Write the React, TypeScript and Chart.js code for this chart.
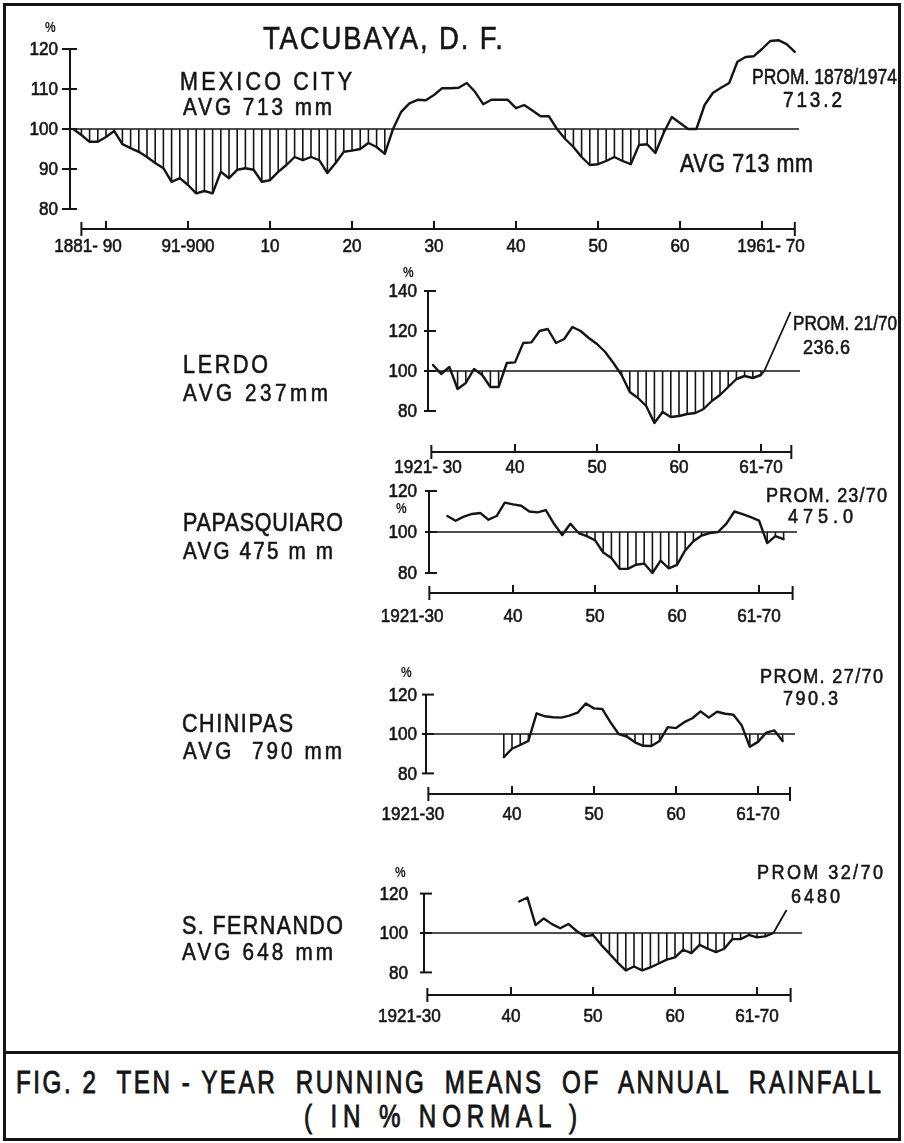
import React, { useEffect, useRef } from "react";
import { Chart, registerables } from "chart.js";

Chart.register(...registerables);

const INK = "#151515";
const FONT = '"Liberation Sans", Arial, sans-serif';

// ---------------- DATA ----------------
// Tacubaya (Mexico City), ten-year running means, % of normal
const tacubayaYears = [
  1886, 1887, 1888, 1889, 1890, 1891, 1892, 1893, 1894, 1895, 1896, 1897, 1898, 1899,
  1900, 1901, 1902, 1903, 1904, 1905, 1906, 1907, 1908, 1909, 1910, 1911, 1912, 1913,
  1914, 1915, 1916, 1917, 1918, 1919, 1920, 1921, 1922, 1923, 1924, 1925, 1926, 1927,
  1928, 1929, 1930, 1931, 1932, 1933, 1934, 1935, 1936, 1937, 1938, 1939, 1940, 1941,
  1942, 1943, 1944, 1945, 1946, 1947, 1948, 1949, 1950, 1951, 1952, 1953, 1954, 1955,
  1956, 1957, 1958, 1959, 1960, 1961, 1962, 1963, 1964, 1965, 1966, 1967, 1968, 1969,
  1970, 1971, 1972, 1973, 1974,
];
const tacubayaValues = [
  100, 98.5, 96.8, 96.8, 98, 99.5, 96.2, 95.2, 94.3, 93, 91.5, 90.2, 86.8, 87.7,
  86, 83.9, 84.5, 83.9, 89.3, 87.7, 89.8, 90.2, 89.8, 86.8, 87.2, 89.3, 91, 93,
  92.2, 93, 92.2, 89, 91.5, 94.3, 94.6, 95, 96.5, 95.5, 93.8, 100, 104.3, 106.4,
  107.3, 107.2, 108.5, 110.2, 110.2, 110.3, 111.5, 109.3, 106.2, 107.3, 107.3, 107.3, 105.2, 106,
  104.6, 103.2, 103.2, 100, 97.5, 95.5, 93, 91, 91.2, 92, 93, 92, 91.2, 96,
  96.2, 94, 99, 103, 101.5, 100, 100, 106, 109, 110.3, 111.5, 116.8, 118, 118.2,
  120, 122, 122.2, 121.2, 119.3,
];

// Lerdo
const lerdoYears = [
  1930, 1931, 1932, 1933, 1934, 1935, 1936, 1937, 1938, 1939, 1940, 1941, 1942, 1943,
  1944, 1945, 1946, 1947, 1948, 1949, 1950, 1951, 1952, 1953, 1954, 1955, 1956, 1957,
  1958, 1959, 1960, 1961, 1962, 1963, 1964, 1965, 1966, 1967, 1968, 1969, 1970,
];
const lerdoValues = [
  103, 98.5, 102, 91, 94, 101, 98, 92, 92, 104, 104.3, 114, 114.3, 120,
  121, 114, 116, 122, 120, 116.5, 113.5, 109.5, 104, 98, 89.5, 86.5, 82.5, 74,
  79.5, 77, 77.5, 78.5, 79, 81, 85, 88, 92, 96, 97.5, 96.5, 98,
];
const lerdoLeaderYears = [1970.4, 1973.6];
const lerdoLeaderValues = [100, 129.5];

// Papasquiaro
const papasquiaroYears = [
  1932, 1933, 1934, 1935, 1936, 1937, 1938, 1939, 1940, 1941, 1942, 1943, 1944, 1945,
  1946, 1947, 1948, 1949, 1950, 1951, 1952, 1953, 1954, 1955, 1956, 1957, 1958, 1959,
  1960, 1961, 1962, 1963, 1964, 1965, 1966, 1967, 1968, 1969, 1970, 1971, 1972, 1973,
];
const papasquiaroValues = [
  107.8, 105.5, 107.5, 108.8, 109.3, 106, 107.8, 114.3, 113.5, 112.8, 110, 109.6, 110.7, 104,
  98.5, 104, 99.5, 98, 96, 90, 87.3, 82, 82, 84, 84.6, 80, 86, 82.3,
  84, 91, 95.5, 98.3, 99.5, 100, 104, 110, 108.7, 107.2, 105.6, 94.6, 98, 96.5,
];

// Chinipas
const chinipasYears = [
  1939, 1940, 1941, 1942, 1943, 1944, 1945, 1946, 1947, 1948, 1949, 1950, 1951, 1952,
  1953, 1954, 1955, 1956, 1957, 1958, 1959, 1960, 1961, 1962, 1963, 1964, 1965, 1966,
  1967, 1968, 1969, 1970, 1971, 1972, 1973,
];
const chinipasValues = [
  88.3, 92.5, 94.4, 96.5, 110.5, 109, 108.5, 108.3, 109.3, 110.8, 115.5, 113, 112.7, 106,
  100, 98.7, 95.8, 94, 93.9, 96.5, 103.5, 103, 106, 108, 111.5, 108.3, 111.3, 110.3,
  109.8, 104.5, 93.5, 96, 100.7, 101.8, 96.4,
];

// S. Fernando
const fernandoYears = [
  1941, 1942, 1943, 1944, 1945, 1946, 1947, 1948, 1949, 1950, 1951, 1952, 1953, 1954,
  1955, 1956, 1957, 1958, 1959, 1960, 1961, 1962, 1963, 1964, 1965, 1966, 1967, 1968,
  1969, 1970, 1971, 1972,
];
const fernandoValues = [
  116, 118, 104, 107.4, 104.5, 102.4, 104.6, 101, 98.3, 99, 94, 89.5, 85, 81,
  83, 81, 82.5, 84.5, 86.5, 87.6, 91.5, 89.8, 94, 92, 90.3, 92, 96.9, 96.9,
  99, 97.8, 98.3, 100,
];
const fernandoLeaderYears = [1973.6];
const fernandoLeaderValues = [111.7];

// Tick values and labels
const tacubayaYTicks = [80, 90, 100, 110, 120];
const lerdoYTicks = [80, 100, 120, 140];
const stationYTicks = [80, 100, 120];
const tacubayaDecadeTicks = [1890, 1900, 1910, 1920, 1930, 1940, 1950, 1960, 1970];
const stationDecadeTicks = [1940, 1950, 1960, 1970];
const tacubayaXLabels = ["1881- 90", "91-900", "10", "20", "30", "40", "50", "60", "1961- 70"];
const tacubayaXLabelYears = [1887.8, 1900, 1910, 1920, 1930, 1940, 1950, 1960, 1971.1];
const lerdoXLabels = ["1921- 30", "40", "50", "60", "61-70"];
const stationXLabels = ["1921-30", "40", "50", "60", "61-70"];

// ---------------- LAYOUT ----------------
type Layout = {
  top: number; height: number;
  axisX: number; plotRight: number;
  refYear: number; refPx: number; pxPerYear: number;
  y100: number; pxPerPct: number; yMin: number; yMax: number;
  yTicks: number[]; yLabelGap: number; yLabelSize: number; tickL: number; tickR: number;
  xAxisY: number; xLabelY: number; axisStart: number; axisEnd: number;
  decadeTicks: number[]; xLabels: string[]; xLabelYears: number[];
};

const L1: Layout = {
  top: 0, height: 262, axisX: 70, plotRight: 799, refYear: 1890, refPx: 106, pxPerYear: 8.2,
  y100: 129, pxPerPct: 4, yMin: 75, yMax: 126, yTicks: tacubayaYTicks, yLabelGap: 12, yLabelSize: 18,
  tickL: 8, tickR: 7, xAxisY: 229, xLabelY: 245, axisStart: 1887, axisEnd: 1974,
  decadeTicks: tacubayaDecadeTicks, xLabels: tacubayaXLabels, xLabelYears: tacubayaXLabelYears,
};
const L2: Layout = {
  top: 262, height: 218, axisX: 428, plotRight: 800, refYear: 1940, refPx: 515, pxPerYear: 8.2,
  y100: 371, pxPerPct: 2, yMin: 70, yMax: 145, yTicks: lerdoYTicks, yLabelGap: 11, yLabelSize: 18,
  tickL: 4, tickR: 8, xAxisY: 452, xLabelY: 466, axisStart: 1929.8, axisEnd: 1973.7,
  decadeTicks: stationDecadeTicks, xLabels: lerdoXLabels, xLabelYears: [1929.4, 1940, 1950, 1960, 1970],
};
const L3: Layout = {
  top: 480, height: 150, axisX: 429, plotRight: 797, refYear: 1940, refPx: 513, pxPerYear: 8.2,
  y100: 532, pxPerPct: 2.05, yMin: 75, yMax: 122, yTicks: stationYTicks, yLabelGap: 12, yLabelSize: 18,
  tickL: 4, tickR: 8, xAxisY: 593, xLabelY: 615, axisStart: 1929.8, axisEnd: 1974.1,
  decadeTicks: stationDecadeTicks, xLabels: stationXLabels, xLabelYears: [1927.7, 1940, 1950, 1960, 1970],
};
const L4: Layout = {
  top: 630, height: 200, axisX: 426, plotRight: 795, refYear: 1940, refPx: 512, pxPerYear: 8.2,
  y100: 734, pxPerPct: 1.97, yMin: 75, yMax: 122, yTicks: stationYTicks, yLabelGap: 9, yLabelSize: 18,
  tickL: 4, tickR: 8, xAxisY: 794, xLabelY: 813, axisStart: 1929.8, axisEnd: 1973.9,
  decadeTicks: stationDecadeTicks, xLabels: stationXLabels, xLabelYears: [1927.9, 1940, 1950, 1960, 1970],
};
const L5: Layout = {
  top: 830, height: 210, axisX: 424, plotRight: 802, refYear: 1940, refPx: 511, pxPerYear: 8.2,
  y100: 933, pxPerPct: 1.97, yMin: 75, yMax: 125, yTicks: stationYTicks, yLabelGap: 16, yLabelSize: 18,
  tickL: 4, tickR: 8, xAxisY: 995, xLabelY: 1015, axisStart: 1929.8, axisEnd: 1974.1,
  decadeTicks: stationDecadeTicks, xLabels: stationXLabels, xLabelYears: [1927.6, 1940, 1950, 1960, 1970],
};

function drawCondensed(ctx: CanvasRenderingContext2D, text: string, x: number, cy: number, size: number, align: CanvasTextAlign, sx: number) {
  ctx.save();
  ctx.font = `${size}px ${FONT}`;
  ctx.fillStyle = INK;
  ctx.strokeStyle = INK;
  ctx.lineWidth = 0.6;
  ctx.textAlign = align;
  ctx.textBaseline = "alphabetic";
  ctx.translate(x, cy + 0.358 * size);
  ctx.scale(sx, 1);
  ctx.fillText(text, 0, 0);
  ctx.strokeText(text, 0, 0);
  ctx.restore();
}

function makeAxisPlugin(L: Layout) {
  return {
    id: "handAxes",
    beforeDatasetsDraw(chart: any) {
      const { ctx, chartArea } = chart;
      const xs = chart.scales.x;
      const ys = chart.scales.y;
      const y100 = ys.getPixelForValue(100);
      ctx.save();
      ctx.strokeStyle = INK;
      ctx.lineCap = "butt";
      ctx.lineWidth = 1.6;
      ctx.beginPath();
      ctx.moveTo(chartArea.left, y100);
      ctx.lineTo(chartArea.right, y100);
      ctx.stroke();
      ctx.lineWidth = 1.6;
      const pts = chart.data.datasets[0].data as { x: number; y: number }[];
      for (const p of pts) {
        if (p.y < 100) {
          const px = xs.getPixelForValue(p.x);
          ctx.beginPath();
          ctx.moveTo(px, y100);
          ctx.lineTo(px, ys.getPixelForValue(p.y));
          ctx.stroke();
        }
      }
      ctx.restore();
    },
    afterDraw(chart: any) {
      const { ctx, chartArea } = chart;
      const xs = chart.scales.x;
      const ys = chart.scales.y;
      const ax = chartArea.left;
      ctx.save();
      ctx.strokeStyle = INK;
      ctx.lineWidth = 2;
      // y axis
      const yTop = ys.getPixelForValue(Math.max(...L.yTicks));
      const yBot = ys.getPixelForValue(Math.min(...L.yTicks));
      ctx.beginPath();
      ctx.moveTo(ax, yTop);
      ctx.lineTo(ax, yBot);
      ctx.stroke();
      for (const v of L.yTicks) {
        const py = ys.getPixelForValue(v);
        ctx.beginPath();
        ctx.moveTo(ax - L.tickL, py);
        ctx.lineTo(ax + L.tickR, py);
        ctx.stroke();
        drawCondensed(ctx, String(v), ax - L.yLabelGap, py, L.yLabelSize, "right", 0.95);
      }
      // x axis
      const xa = L.xAxisY - L.top;
      const xStart = xs.getPixelForValue(L.axisStart);
      const xEnd = xs.getPixelForValue(L.axisEnd);
      ctx.lineWidth = 2;
      ctx.beginPath();
      ctx.moveTo(xStart, xa);
      ctx.lineTo(xEnd, xa);
      ctx.stroke();
      for (const px of [xStart, xEnd]) {
        ctx.beginPath();
        ctx.moveTo(px, xa - 7);
        ctx.lineTo(px, xa + 7);
        ctx.stroke();
      }
      for (const yr of L.decadeTicks) {
        const px = xs.getPixelForValue(yr);
        ctx.beginPath();
        ctx.moveTo(px, xa - 8);
        ctx.lineTo(px, xa);
        ctx.stroke();
      }
      L.xLabels.forEach((lab, i) => {
        drawCondensed(ctx, lab, xs.getPixelForValue(L.xLabelYears[i]), L.xLabelY - L.top, 19, "center", 0.9);
      });
      ctx.restore();
    },
  };
}

function StationChart(props: { L: Layout; years: number[]; values: number[]; leaderYears?: number[]; leaderValues?: number[] }) {
  const { L, years, values, leaderYears, leaderValues } = props;
  const ref = useRef<HTMLCanvasElement>(null);
  useEffect(() => {
    const canvas = ref.current;
    if (!canvas) return;
    const xMin = L.refYear + (L.axisX - L.refPx) / L.pxPerYear;
    const xMax = L.refYear + (L.plotRight - L.refPx) / L.pxPerYear;
    const top = L.y100 - (L.yMax - 100) * L.pxPerPct - L.top;
    const bottom = L.y100 + (100 - L.yMin) * L.pxPerPct - L.top;
    const main = years.map((yr, i) => ({ x: yr, y: values[i] }));
    const datasets: any[] = [
      { data: main, borderColor: INK, borderWidth: 2.4, pointRadius: 0, tension: 0, fill: false, borderJoinStyle: "round", borderCapStyle: "round" },
    ];
    if (leaderYears && leaderValues) {
      const last = main[main.length - 1];
      datasets.push({
        data: [last, ...leaderYears.map((yr, i) => ({ x: yr, y: leaderValues[i] }))],
        borderColor: INK, borderWidth: 1.8, pointRadius: 0, tension: 0, fill: false,
      });
    }
    const chart = new Chart(canvas, {
      type: "line",
      data: { datasets },
      options: {
        animation: false,
        responsive: false,
        events: [],
        layout: { padding: { left: L.axisX, right: 904 - L.plotRight, top, bottom: L.height - bottom } },
        scales: {
          x: { type: "linear", min: xMin, max: xMax, display: false },
          y: { type: "linear", min: L.yMin, max: L.yMax, display: false },
        },
        plugins: { legend: { display: false }, tooltip: { enabled: false } },
      },
      plugins: [makeAxisPlugin(L)],
    } as any);
    return () => chart.destroy();
  }, []);
  return (
    <canvas
      ref={ref}
      width={904}
      height={L.height}
      style={{ position: "absolute", left: 0, top: L.top, width: 904, height: L.height }}
    />
  );
}

let measureCtx: CanvasRenderingContext2D | null = null;
function measure(text: string, font: string) {
  if (!measureCtx) measureCtx = document.createElement("canvas").getContext("2d");
  measureCtx!.font = font;
  return measureCtx!.measureText(text).width;
}

function Txt(props: { t: string; l: number; r: number; cy: number; s: number; w?: number; c?: number; k?: number }) {
  const { t, l, r, cy, s } = props;
  const w = props.w ?? 400;
  const s0 = props.c ?? 0.86;
  const stroke = props.k ?? 0.6;
  const font = `${w} ${s}px ${FONT}`;
  const nat = measure(t, font);
  const target = r - l;
  let sx = s0;
  let ls = 0;
  if (nat * s0 <= target) {
    ls = t.length > 1 ? (target / s0 - nat) / (t.length - 1) : 0;
  } else {
    sx = target / nat;
  }
  return (
    <div
      style={{
        position: "absolute", left: l, top: cy - 0.49 * s, font, lineHeight: `${s}px`,
        whiteSpace: "pre", letterSpacing: ls, transform: `scaleX(${sx})`, transformOrigin: "0 0",
        color: INK, zIndex: 2, WebkitTextStroke: `${stroke}px ${INK}`,
      }}
    >
      {t}
    </div>
  );
}

export default function App() {
  return (
    <div style={{ position: "absolute", left: 0, top: 0, width: 904, height: 1143, background: "#fff", overflow: "hidden" }}>
      <div style={{ position: "absolute", left: 3, top: 3, width: 898, height: 1138, border: `3px solid ${INK}`, boxSizing: "border-box" }} />
      <div style={{ position: "absolute", left: 3, top: 1051, width: 898, height: 3, background: INK }} />

      <StationChart L={L1} years={tacubayaYears} values={tacubayaValues} />
      <StationChart L={L2} years={lerdoYears} values={lerdoValues} leaderYears={lerdoLeaderYears} leaderValues={lerdoLeaderValues} />
      <StationChart L={L3} years={papasquiaroYears} values={papasquiaroValues} />
      <StationChart L={L4} years={chinipasYears} values={chinipasValues} />
      <StationChart L={L5} years={fernandoYears} values={fernandoValues} leaderYears={fernandoLeaderYears} leaderValues={fernandoLeaderValues} />

      {/* Tacubaya */}
      <Txt t="TACUBAYA, D. F." l={263} r={503} cy={38} s={32} />
      <Txt t="MEXICO CITY" l={180} r={352} cy={81} s={25} />
      <Txt t="AVG 713 mm" l={183} r={332} cy={107} s={24} />
      <Txt t="PROM. 1878/1974" l={752} r={897} cy={77} s={22} />
      <Txt t="713.2" l={783} r={842} cy={100} s={22} />
      <Txt t="AVG 713 mm" l={680} r={813} cy={163} s={25} />
      <Txt t="%" l={45} r={56} cy={27} s={14} w={700} k={0} />

      {/* Lerdo */}
      <Txt t="LERDO" l={183} r={268} cy={364} s={25} />
      <Txt t="AVG 237mm" l={183} r={328} cy={393} s={24} />
      <Txt t="%" l={403} r={414} cy={272} s={14} w={700} k={0} />
      <Txt t="PROM. 21/70" l={793} r={897} cy={322} s={21} />
      <Txt t="236.6" l={803} r={850} cy={346} s={21} />

      {/* Papasquiaro */}
      <Txt t="PAPASQUIARO" l={183} r={343} cy={522} s={25} />
      <Txt t="AVG 475 m m" l={183} r={333} cy={551} s={24} />
      <Txt t="%" l={396} r={407} cy={508} s={14} w={700} k={0} />
      <Txt t="PROM. 23/70" l={766} r={887} cy={494} s={21} />
      <Txt t="475.0" l={788} r={853} cy={515} s={21} />

      {/* Chinipas */}
      <Txt t="CHINIPAS" l={182} r={293} cy={723} s={25} />
      <Txt t="AVG  790 mm" l={183} r={342} cy={751} s={24} />
      <Txt t="%" l={401} r={412} cy={672} s={14} w={700} k={0} />
      <Txt t="PROM. 27/70" l={760} r={883} cy={675} s={21} />
      <Txt t="790.3" l={783} r={838} cy={697} s={21} />

      {/* S. Fernando */}
      <Txt t="S. FERNANDO" l={182} r={343} cy={925} s={25} />
      <Txt t="AVG 648 mm" l={182} r={333} cy={952} s={24} />
      <Txt t="%" l={395} r={406} cy={872} s={14} w={700} k={0} />
      <Txt t="PROM 32/70" l={757} r={883} cy={871} s={21} />
      <Txt t="6480" l={791} r={840} cy={895} s={21} />

      {/* Caption */}
      <Txt t="FIG. 2  TEN - YEAR  RUNNING  MEANS  OF  ANNUAL  RAINFALL" l={16} r={884} cy={1082} s={31} w={400} c={0.78} k={0.9} />
      <Txt t="( IN % NORMAL )" l={304} r={578} cy={1116} s={31} w={400} c={0.78} k={0.9} />
    </div>
  );
}
